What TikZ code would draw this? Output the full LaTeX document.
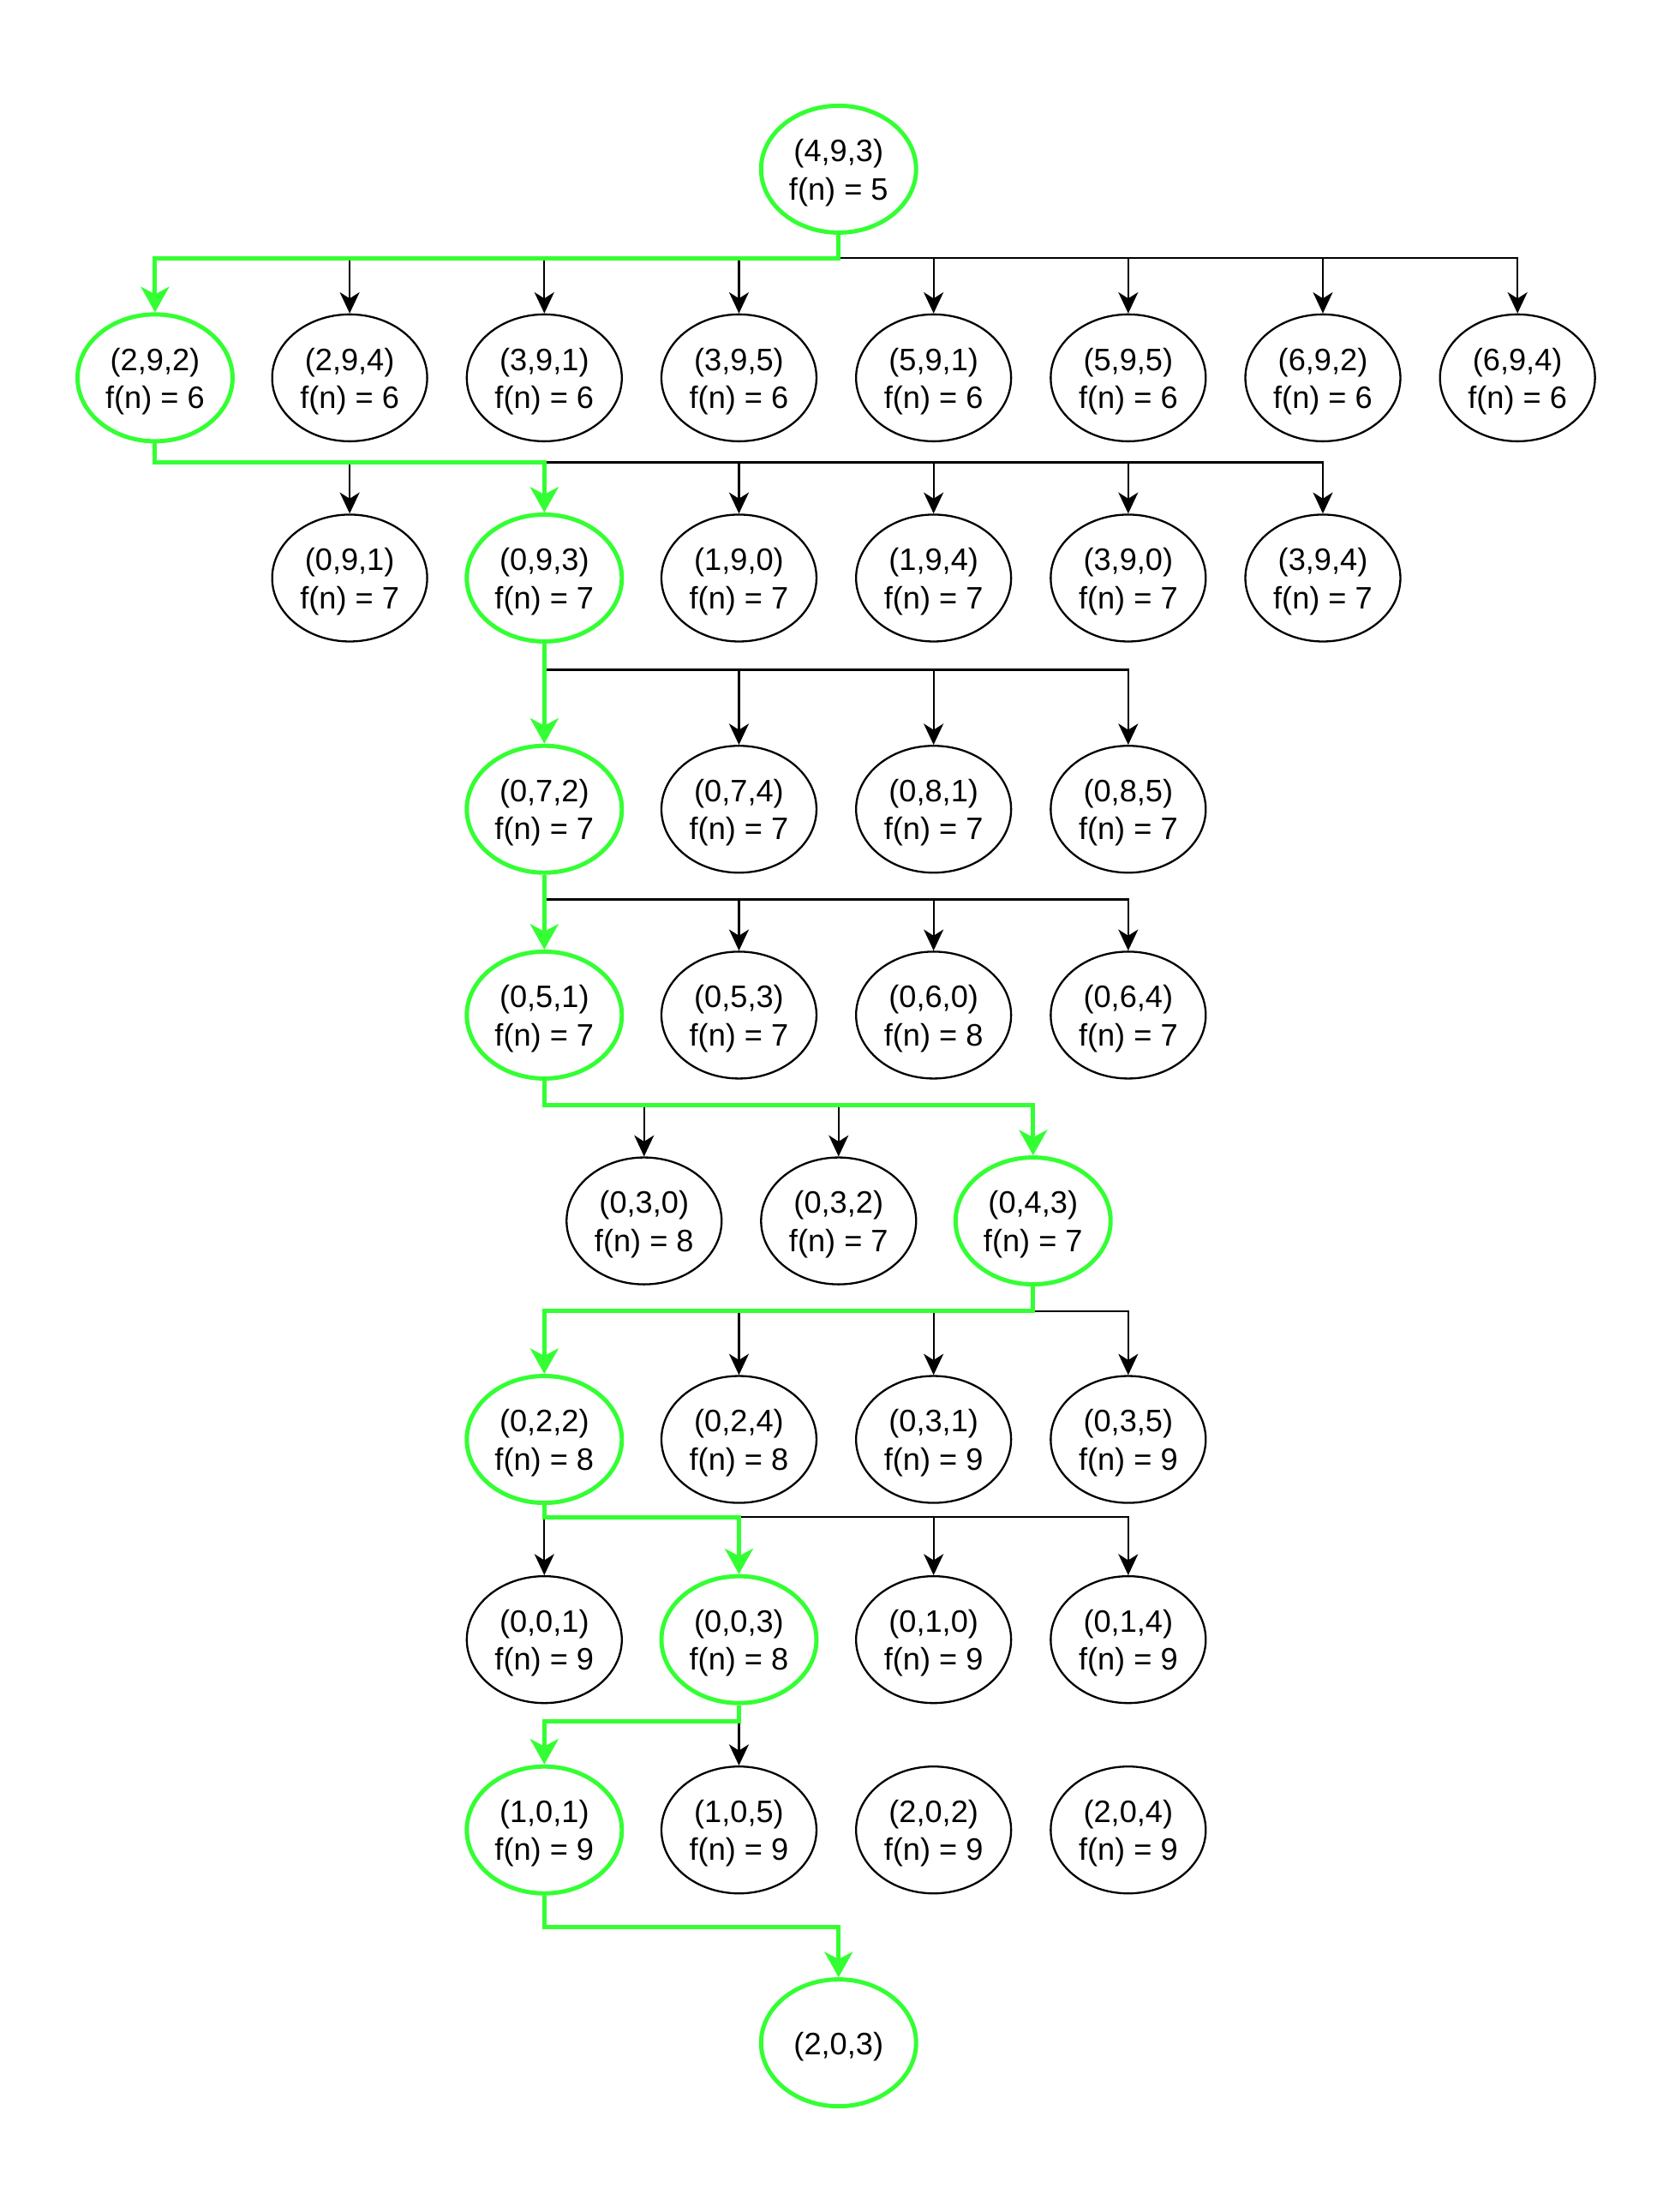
\documentclass[tikz,border=0pt]{standalone}
\usepackage{fontspec}
\setmainfont{Liberation Sans}
\usetikzlibrary{shapes.geometric,arrows.meta}
\definecolor{pathgreen}{RGB}{51,255,51}
\newcommand{\twoline}[2]{\begin{tabular}{@{}c@{}}\rule{0pt}{12.2pt}#1\\#2\end{tabular}}
\tikzset{
  st/.style={ellipse,draw=black,line width=0.7pt,minimum width=55pt,minimum height=45pt,inner sep=0pt,font=\fontsize{11pt}{13.5pt}\selectfont},
  gst/.style={st,draw=pathgreen,line width=1.5pt},
  blk/.style={draw=black,line width=0.7pt,-{Stealth[length=7.5pt,width=7pt,inset=2.2pt]}},
  grn/.style={draw=pathgreen,line width=1.5pt,-{Stealth[length=9pt,width=10pt,inset=2.6pt]}},
}
\begin{document}
\begin{tikzpicture}[x=0.5pt,y=-0.5pt]
\useasboundingbox (0,0) rectangle (1188,1569);
% buses
\coordinate (y1) at (0,183);
\coordinate (y2) at (0,328);
\coordinate (y3) at (0,475);
\coordinate (y4) at (0,638);
\coordinate (y5) at (0,784);
\coordinate (y6) at (0,930);
\coordinate (y7) at (0,1076);
\coordinate (y8) at (0,1221);
\coordinate (y9) at (0,1367);
% nodes
\node[gst] (r) at (595,120) {\twoline{(4,9,3)}{f(n) = 5}};
\node[gst] (a1) at (110,268) {\twoline{(2,9,2)}{f(n) = 6}};
\node[st] (a2) at (248.1,268) {\twoline{(2,9,4)}{f(n) = 6}};
\node[st] (a3) at (386.2,268) {\twoline{(3,9,1)}{f(n) = 6}};
\node[st] (a4) at (524.3,268) {\twoline{(3,9,5)}{f(n) = 6}};
\node[st] (a5) at (662.4,268) {\twoline{(5,9,1)}{f(n) = 6}};
\node[st] (a6) at (800.5,268) {\twoline{(5,9,5)}{f(n) = 6}};
\node[st] (a7) at (938.6,268) {\twoline{(6,9,2)}{f(n) = 6}};
\node[st] (a8) at (1076.7,268) {\twoline{(6,9,4)}{f(n) = 6}};
\node[st] (b1) at (248.1,410) {\twoline{(0,9,1)}{f(n) = 7}};
\node[gst] (b2) at (386.2,410) {\twoline{(0,9,3)}{f(n) = 7}};
\node[st] (b3) at (524.3,410) {\twoline{(1,9,0)}{f(n) = 7}};
\node[st] (b4) at (662.4,410) {\twoline{(1,9,4)}{f(n) = 7}};
\node[st] (b5) at (800.5,410) {\twoline{(3,9,0)}{f(n) = 7}};
\node[st] (b6) at (938.6,410) {\twoline{(3,9,4)}{f(n) = 7}};
\node[gst] (c1) at (386.2,574) {\twoline{(0,7,2)}{f(n) = 7}};
\node[st] (c2) at (524.3,574) {\twoline{(0,7,4)}{f(n) = 7}};
\node[st] (c3) at (662.4,574) {\twoline{(0,8,1)}{f(n) = 7}};
\node[st] (c4) at (800.5,574) {\twoline{(0,8,5)}{f(n) = 7}};
\node[gst] (d1) at (386.2,720) {\twoline{(0,5,1)}{f(n) = 7}};
\node[st] (d2) at (524.3,720) {\twoline{(0,5,3)}{f(n) = 7}};
\node[st] (d3) at (662.4,720) {\twoline{(0,6,0)}{f(n) = 8}};
\node[st] (d4) at (800.5,720) {\twoline{(0,6,4)}{f(n) = 7}};
\node[st] (e1) at (457,866) {\twoline{(0,3,0)}{f(n) = 8}};
\node[st] (e2) at (595,866) {\twoline{(0,3,2)}{f(n) = 7}};
\node[gst] (e3) at (733,866) {\twoline{(0,4,3)}{f(n) = 7}};
\node[gst] (f1) at (386.2,1021) {\twoline{(0,2,2)}{f(n) = 8}};
\node[st] (f2) at (524.3,1021) {\twoline{(0,2,4)}{f(n) = 8}};
\node[st] (f3) at (662.4,1021) {\twoline{(0,3,1)}{f(n) = 9}};
\node[st] (f4) at (800.5,1021) {\twoline{(0,3,5)}{f(n) = 9}};
\node[st] (g1) at (386.2,1163) {\twoline{(0,0,1)}{f(n) = 9}};
\node[gst] (g2) at (524.3,1163) {\twoline{(0,0,3)}{f(n) = 8}};
\node[st] (g3) at (662.4,1163) {\twoline{(0,1,0)}{f(n) = 9}};
\node[st] (g4) at (800.5,1163) {\twoline{(0,1,4)}{f(n) = 9}};
\node[gst] (h1) at (386.2,1298) {\twoline{(1,0,1)}{f(n) = 9}};
\node[st] (h2) at (524.3,1298) {\twoline{(1,0,5)}{f(n) = 9}};
\node[st] (h3) at (662.4,1298) {\twoline{(2,0,2)}{f(n) = 9}};
\node[st] (h4) at (800.5,1298) {\twoline{(2,0,4)}{f(n) = 9}};
\node[gst] (k) at (595,1449) {\rule{0pt}{11pt}(2,0,3)};
% black connectors
\foreach \c in {a2,a3,a4,a5,a6,a7,a8}
  \draw[blk] (r.south) -- (r.south |- y1) -| (\c.north);
\foreach \c in {b1,b3,b4,b5,b6}
  \draw[blk] (a1.south) -- (a1.south |- y2) -| (\c.north);
\foreach \c in {c2,c3,c4}
  \draw[blk] (b2.south) -- (b2.south |- y3) -| (\c.north);
\foreach \c in {d2,d3,d4}
  \draw[blk] (c1.south) -- (c1.south |- y4) -| (\c.north);
\foreach \c in {e1,e2}
  \draw[blk] (d1.south) -- (d1.south |- y5) -| (\c.north);
\foreach \c in {f2,f3,f4}
  \draw[blk] (e3.south) -- (e3.south |- y6) -| (\c.north);
\foreach \c in {g1,g3,g4}
  \draw[blk] (f1.south) -- (f1.south |- y7) -| (\c.north);
\draw[blk] (g2.south) -- (g2.south |- y8) -| (h2.north);
% green path
\draw[grn] (r.south) -- (r.south |- y1) -| (a1.north);
\draw[grn] (a1.south) -- (a1.south |- y2) -| (b2.north);
\draw[grn] (b2.south) -- (c1.north);
\draw[grn] (c1.south) -- (d1.north);
\draw[grn] (d1.south) -- (d1.south |- y5) -| (e3.north);
\draw[grn] (e3.south) -- (e3.south |- y6) -| (f1.north);
\draw[grn] (f1.south) -- (f1.south |- y7) -| (g2.north);
\draw[grn] (g2.south) -- (g2.south |- y8) -| (h1.north);
\draw[grn] (h1.south) -- (h1.south |- y9) -| (k.north);
\end{tikzpicture}
\end{document}
